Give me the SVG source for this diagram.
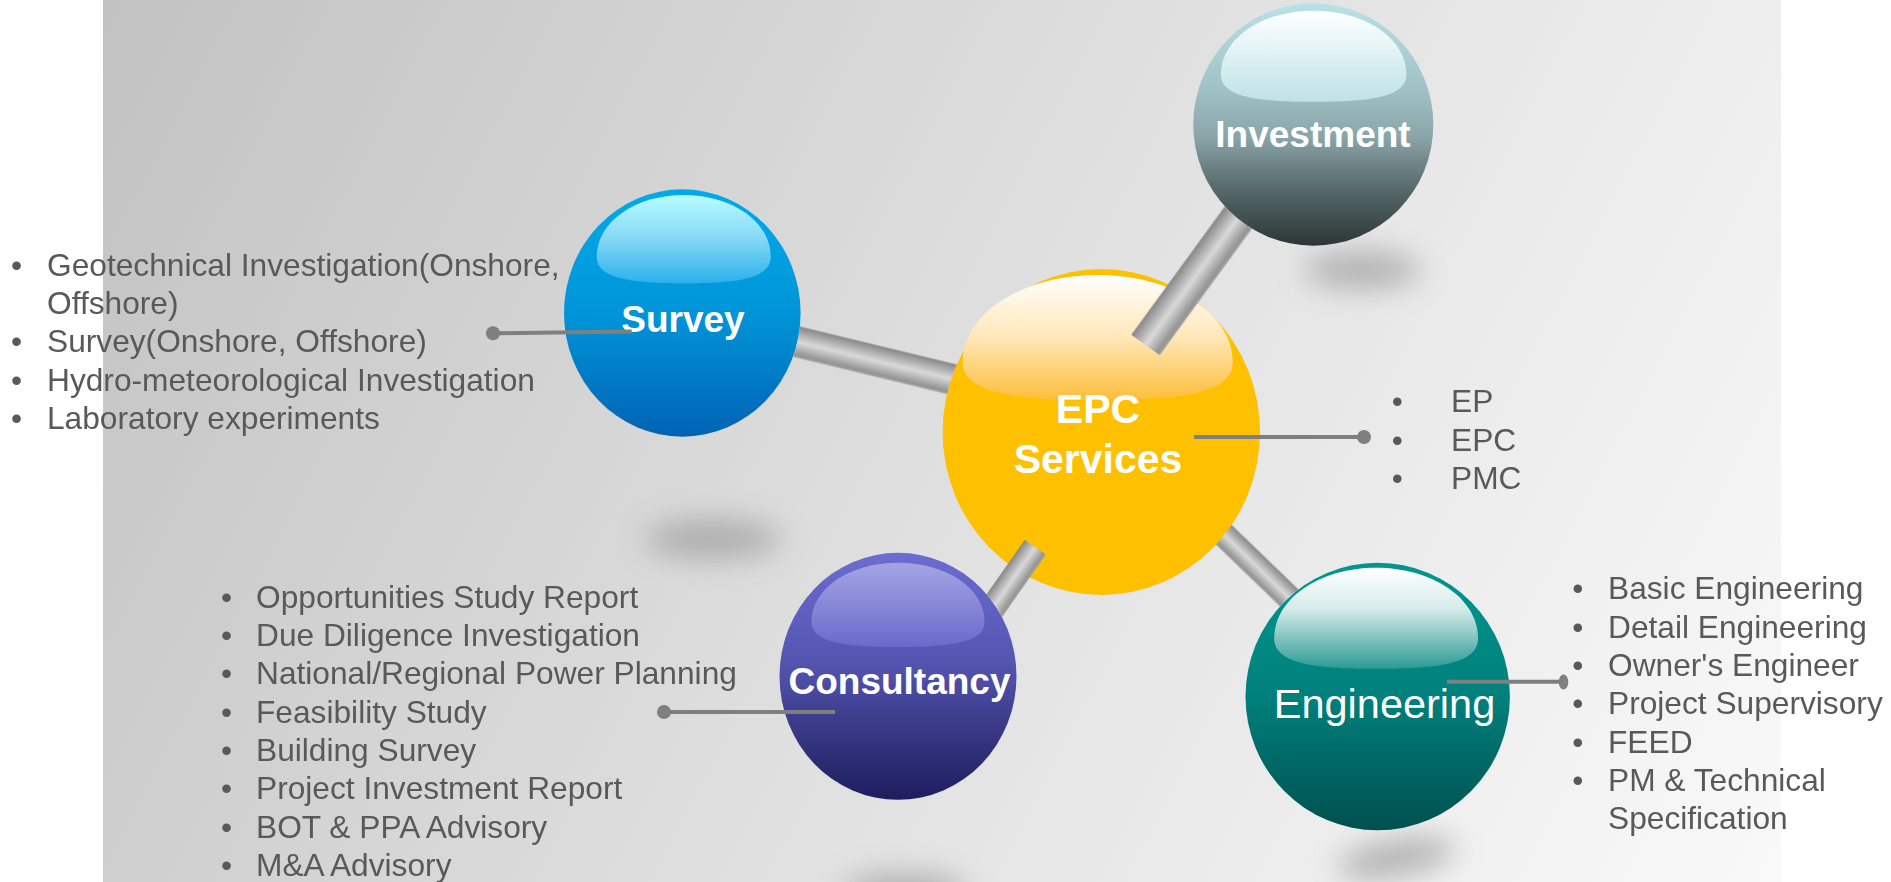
<svg xmlns="http://www.w3.org/2000/svg" xmlns:xlink="http://www.w3.org/1999/xlink" width="1891" height="882" viewBox="0 0 1891 882">
<style>
.lst{font-family:"Liberation Sans",Arial,sans-serif;font-size:31.7px;fill:#595959}
.nl{font-family:"Liberation Sans",Arial,sans-serif;fill:#ffffff;text-anchor:middle}
.b{font-weight:bold}
.lead{stroke:#7f7f7f;stroke-width:4;fill:none}
.dot{fill:#7f7f7f}
.shadow{fill:#9c9c9c;opacity:0.75;filter:url(#blur)}
.rod{fill:url(#rodGrad)}
</style>
<defs>
<linearGradient id="bgGrad" gradientUnits="userSpaceOnUse" x1="103" y1="0" x2="1781" y2="882">
<stop offset="0" stop-color="#c2c2c2"/><stop offset="0.55" stop-color="#e2e2e2"/><stop offset="1" stop-color="#f9f9f9"/>
</linearGradient>
<linearGradient id="rodGrad" x1="0" y1="0" x2="0" y2="1">
<stop offset="0" stop-color="#868686"/><stop offset="0.5" stop-color="#d9d9d9"/><stop offset="0.9" stop-color="#959595"/><stop offset="1" stop-color="#a0a0a0"/>
</linearGradient>
<linearGradient id="bodySurvey" x1="0" y1="0" x2="0" y2="1"><stop offset="0" stop-color="#00aaeb"/><stop offset="0.5" stop-color="#0095d8"/><stop offset="1" stop-color="#0063b4"/></linearGradient>
<linearGradient id="hlSurvey" x1="0" y1="0" x2="0" y2="1"><stop offset="0" stop-color="#b8fcff"/><stop offset="0.5" stop-color="#84d8f6"/><stop offset="1" stop-color="#2bb0ec"/></linearGradient>
<linearGradient id="bodyInv" x1="0" y1="0" x2="0" y2="1"><stop offset="0" stop-color="#b9e1e6"/><stop offset="0.35" stop-color="#a0c2c6"/><stop offset="0.55" stop-color="#8aa5a8"/><stop offset="0.75" stop-color="#5a6d6f"/><stop offset="1" stop-color="#2c3635"/></linearGradient>
<linearGradient id="hlInv" x1="0" y1="0" x2="0" y2="1"><stop offset="0" stop-color="#ffffff"/><stop offset="0.6" stop-color="#d8eef0"/><stop offset="1" stop-color="#bde2e6"/></linearGradient>
<linearGradient id="hlEpc" x1="0" y1="0" x2="0" y2="1"><stop offset="0" stop-color="#ffffff"/><stop offset="0.5" stop-color="#ffe7b8"/><stop offset="1" stop-color="#fcbe3a"/></linearGradient>
<linearGradient id="bodyCon" x1="0" y1="0" x2="0" y2="1"><stop offset="0" stop-color="#6c6cd2"/><stop offset="0.45" stop-color="#5454b0"/><stop offset="0.7" stop-color="#3a3a88"/><stop offset="1" stop-color="#1e1e5e"/></linearGradient>
<linearGradient id="hlCon" x1="0" y1="0" x2="0" y2="1"><stop offset="0" stop-color="#a4a4e4"/><stop offset="1" stop-color="#6a6acd"/></linearGradient>
<linearGradient id="bodyEng" x1="0" y1="0" x2="0" y2="1"><stop offset="0" stop-color="#00968f"/><stop offset="0.5" stop-color="#00807c"/><stop offset="1" stop-color="#00504f"/></linearGradient>
<linearGradient id="hlEng" x1="0" y1="0" x2="0" y2="1"><stop offset="0" stop-color="#ffffff"/><stop offset="0.4" stop-color="#d6ecea"/><stop offset="1" stop-color="#2c9a94"/></linearGradient>
<filter id="blur" x="-80%" y="-150%" width="260%" height="400%"><feGaussianBlur stdDeviation="15"/></filter>
<mask id="maskA" maskUnits="userSpaceOnUse" x="0" y="0" width="1891" height="882">
<rect width="1891" height="882" fill="#fff"/>
<ellipse cx="682.3" cy="313" rx="118.3" ry="123.7" fill="#000"/>
<ellipse cx="1101.3" cy="432" rx="158.7" ry="163" fill="#000"/>
<ellipse cx="1377.7" cy="696.5" rx="132.2" ry="133.8" fill="#000"/>
</mask>
<mask id="maskB" maskUnits="userSpaceOnUse" x="0" y="0" width="1891" height="882">
<rect width="1891" height="882" fill="#fff"/>
<ellipse cx="1313.3" cy="124.5" rx="120" ry="121.2" fill="#000"/>
<ellipse cx="898" cy="676.3" rx="118.5" ry="123.5" fill="#000"/>
</mask>
</defs>

<rect x="0" y="0" width="1891" height="882" fill="#ffffff"/>
<rect x="103" y="0" width="1678" height="882" fill="url(#bgGrad)"/>

<g id="shadows">
<ellipse class="shadow" cx="1362" cy="270" rx="58" ry="18"/>
<ellipse class="shadow" cx="713" cy="539" rx="68" ry="19"/>
<ellipse class="shadow" cx="1396" cy="858" rx="60" ry="18" transform="rotate(-10 1396 858)"/>
<ellipse class="shadow" cx="905" cy="892" rx="62" ry="18"/>
</g>

<g id="node-epc">
<ellipse cx="1101.3" cy="432" rx="158.7" ry="163" fill="#ffc000"/>
<path d="M962.7,362.5 C962.7,312.5 1023.5,275 1097.7,275 C1172,275 1232.7,312.5 1232.7,362.5 C1232.7,393.8 1178.7,400 1097.7,400 C1016.7,400 962.7,393.8 962.7,362.5Z" fill="url(#hlEpc)"/>
<text class="nl b" x="1098" y="422.5" font-size="41">EPC</text>
<text class="nl b" x="1098" y="472.5" font-size="41">Services</text>
</g>

<g id="node-survey">
<ellipse cx="682.3" cy="313" rx="118.3" ry="123.7" fill="url(#bodySurvey)"/>
<path d="M596.7,256.8 C596.7,221.5 635.8,195 683.7,195 C731.6,195 770.7,221.5 770.7,256.8 C770.7,278.9 735.9,283.3 683.7,283.3 C631.5,283.3 596.7,278.9 596.7,256.8Z" fill="url(#hlSurvey)"/>
<text class="nl b" x="683" y="331.7" font-size="37">Survey</text>
</g>

<g id="node-engineering">
<ellipse cx="1377.7" cy="696.5" rx="132.2" ry="133.8" fill="url(#bodyEng)"/>
<path d="M1274.2,638.4 C1274.2,598 1320.1,567.7 1376.1,567.7 C1432.1,567.7 1478,598 1478,638.4 C1478,663.7 1437.2,668.7 1376.1,668.7 C1315,668.7 1274.2,663.7 1274.2,638.4Z" fill="url(#hlEng)"/>
<text class="nl" x="1384.5" y="717.7" font-size="41.5">Engineering</text>
</g>

<g id="node-investment">
<ellipse cx="1313.3" cy="124.5" rx="120" ry="121.2" fill="url(#bodyInv)"/>
<path d="M1220.9,74.4 C1220.9,38 1262.6,10.7 1313.65,10.7 C1364.7,10.7 1406.4,38 1406.4,74.4 C1406.4,97.2 1369.3,101.7 1313.65,101.7 C1258,101.7 1220.9,97.2 1220.9,74.4Z" fill="url(#hlInv)"/>
<text class="nl b" x="1313" y="146.7" font-size="37">Investment</text>
</g>

<g id="node-consultancy">
<ellipse cx="898" cy="676.3" rx="118.5" ry="123.5" fill="url(#bodyCon)"/>
<path d="M811.4,621.7 C811.4,588 850.4,562.7 898,562.7 C945.6,562.7 984.6,588 984.6,621.7 C984.6,642.8 950,647 898,647 C846,647 811.4,642.8 811.4,621.7Z" fill="url(#hlCon)"/>
<text class="nl b" x="899.5" y="694.3" font-size="37">Consultancy</text>
</g>

<g id="connectors">
<g mask="url(#maskA)">
<rect class="rod" x="0" y="-15.5" width="270" height="31" transform="translate(740 328) rotate(13.6)"/>
<rect class="rod" x="0" y="-12.5" width="210" height="25" transform="translate(1179.8 492.3) rotate(44)"/>
</g>
<g mask="url(#maskB)">
<rect class="rod" x="0" y="-17.5" width="200" height="35" transform="translate(1145.5 345) rotate(-53.9)"/>
<rect class="rod" x="0" y="-12.9" width="100" height="25.8" transform="translate(978 629) rotate(-55)"/>
</g>
<g id="leaders">
<path class="lead" d="M493,333.3 L631.7,331.5"/>
<circle class="dot" cx="493" cy="333.3" r="7"/>
<path class="lead" d="M1194,437 L1364,437"/>
<circle class="dot" cx="1364" cy="437" r="7"/>
<path class="lead" d="M664,712 L835,712"/>
<circle class="dot" cx="664" cy="712" r="7"/>
<path class="lead" d="M1447,681.7 L1563.5,681.7"/>
<ellipse class="dot" cx="1563.5" cy="682" rx="4.8" ry="7.5"/>
</g>
</g>

<g id="list-survey" class="lst">
<text x="11" y="276">•</text><text x="47" y="276">Geotechnical Investigation(Onshore,</text>
<text x="47" y="314.2">Offshore)</text>
<text x="11" y="352.4">•</text><text x="47" y="352.4">Survey(Onshore, Offshore)</text>
<text x="11" y="390.6">•</text><text x="47" y="390.6">Hydro-meteorological Investigation</text>
<text x="11" y="428.8">•</text><text x="47" y="428.8">Laboratory experiments</text>
</g>

<g id="list-epc" class="lst">
<text x="1391.7" y="412.3">•</text><text x="1451" y="412.3">EP</text>
<text x="1391.7" y="450.6">•</text><text x="1451" y="450.6">EPC</text>
<text x="1391.7" y="489">•</text><text x="1451" y="489">PMC</text>
</g>

<g id="list-consultancy" class="lst">
<text x="221" y="607.7">•</text><text x="256" y="607.7">Opportunities Study Report</text>
<text x="221" y="646">•</text><text x="256" y="646">Due Diligence Investigation</text>
<text x="221" y="684.4">•</text><text x="256" y="684.4">National/Regional Power Planning</text>
<text x="221" y="722.7">•</text><text x="256" y="722.7">Feasibility Study</text>
<text x="221" y="761">•</text><text x="256" y="761">Building Survey</text>
<text x="221" y="799.4">•</text><text x="256" y="799.4">Project Investment Report</text>
<text x="221" y="837.7">•</text><text x="256" y="837.7">BOT &amp; PPA Advisory</text>
<text x="221" y="876">•</text><text x="256" y="876">M&amp;A Advisory</text>
</g>

<g id="list-engineering" class="lst">
<text x="1572.3" y="599.3">•</text><text x="1608" y="599.3">Basic Engineering</text>
<text x="1572.3" y="637.6">•</text><text x="1608" y="637.6">Detail Engineering</text>
<text x="1572.3" y="676">•</text><text x="1608" y="676">Owner's Engineer</text>
<text x="1572.3" y="714.3">•</text><text x="1608" y="714.3">Project Supervisory</text>
<text x="1572.3" y="752.6">•</text><text x="1608" y="752.6">FEED</text>
<text x="1572.3" y="791">•</text><text x="1608" y="791">PM &amp; Technical</text>
<text x="1608" y="829.3">Specification</text>
</g>
</svg>
